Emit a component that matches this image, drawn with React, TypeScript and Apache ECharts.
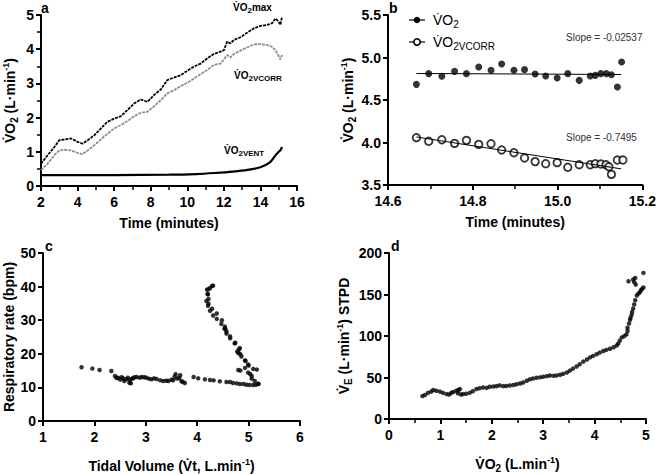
import React, { useEffect, useRef } from "react";
import * as echarts from "echarts";

// ---------- Panel a: VO2 vs time ----------
const aTime = [2.0, 2.36, 2.73, 3.0, 3.27, 3.64, 4.0, 4.27, 4.55, 4.91, 5.27, 5.64, 6.0, 6.36, 6.73, 7.09, 7.45, 7.82, 8.18, 8.55, 8.91, 9.27, 9.64, 10.0, 10.36, 10.73, 11.09, 11.45, 11.82, 12.0, 12.18, 12.36, 12.55, 12.91, 13.27, 13.64, 14.0, 14.36, 14.64, 14.82, 15.0, 15.09, 15.18];
const aVO2max = [0.65, 0.9, 1.14, 1.34, 1.36, 1.39, 1.29, 1.24, 1.34, 1.48, 1.68, 1.88, 1.97, 2.04, 2.22, 2.41, 2.53, 2.46, 2.66, 2.82, 3.1, 3.17, 3.24, 3.37, 3.49, 3.58, 3.73, 3.86, 3.93, 3.97, 4.22, 4.17, 4.27, 4.35, 4.48, 4.61, 4.68, 4.71, 4.76, 4.9, 4.8, 4.71, 4.95];
const aVO2corr = [0.46, 0.65, 0.9, 1.04, 1.06, 1.04, 0.97, 0.93, 1.04, 1.19, 1.36, 1.53, 1.68, 1.78, 1.9, 2.04, 2.14, 2.17, 2.33, 2.51, 2.71, 2.8, 2.92, 3.02, 3.14, 3.27, 3.39, 3.54, 3.58, 3.7, 3.83, 3.76, 3.86, 3.96, 4.05, 4.14, 4.15, 4.12, 4.07, 3.97, 3.8, 3.7, 3.83];
const aVentTime = [2.0, 6.0, 9.0, 10.5, 11.5, 12.5, 13.3, 14.0, 14.5, 14.8, 15.0, 15.1, 15.18];
const aVO2vent = [0.32, 0.32, 0.33, 0.35, 0.38, 0.42, 0.47, 0.55, 0.68, 0.88, 1.0, 1.05, 1.14];

// ---------- Panel b: last 30 s ----------
const bTime = [14.667, 14.696, 14.727, 14.757, 14.785, 14.814, 14.843, 14.868, 14.897, 14.922, 14.947, 14.972, 14.999, 15.024, 15.051, 15.077, 15.089, 15.102, 15.115, 15.127, 15.141, 15.151];
const bVO2 = [4.684, 4.81, 4.78, 4.837, 4.81, 4.888, 4.849, 4.924, 4.849, 4.857, 4.806, 4.782, 4.759, 4.81, 4.731, 4.782, 4.79, 4.81, 4.81, 4.798, 4.653, 4.947];
const bCorrTime = [14.667, 14.696, 14.727, 14.757, 14.785, 14.814, 14.843, 14.868, 14.897, 14.922, 14.947, 14.972, 14.999, 15.024, 15.051, 15.077, 15.089, 15.102, 15.114, 15.121, 15.127, 15.141, 15.154];
const bVO2corr = [4.057, 4.014, 4.033, 3.99, 4.025, 3.978, 3.986, 3.912, 3.88, 3.818, 3.775, 3.751, 3.763, 3.708, 3.739, 3.739, 3.751, 3.747, 3.739, 3.715, 3.625, 3.794, 3.794];
const bFitTime = [14.667, 15.15];
const bFitVO2 = [4.812, 4.8];
const bFitCorr = [4.065, 3.69];
const bSlopes = ["Slope = -0.02537", "Slope = -0.7495"];

// ---------- Panel c: tidal volume vs respiratory rate ----------
const cTidal = [1.75, 1.96, 2.1, 2.33, 2.4, 2.43, 2.46, 2.5, 2.53, 2.56, 2.58, 2.62, 2.65, 2.68, 2.69, 2.71, 2.73, 2.75, 2.78, 2.82, 2.88, 2.92, 2.97, 3.01, 3.06, 3.11, 3.16, 3.21, 3.28, 3.34, 3.4, 3.44, 3.5, 3.53, 3.56, 3.58, 3.61, 3.65, 3.67, 3.69, 3.72, 3.76, 3.93, 4.02, 4.15, 4.25, 4.32, 4.44, 4.57, 4.64, 4.7, 4.77, 4.83, 4.9, 4.96, 5.02, 5.09, 5.14, 5.19, 5.19, 5.12, 5.06, 5.06, 5.03, 4.99, 4.84, 4.8, 4.93, 5.09, 5.16, 5.0, 4.99, 4.94, 4.93, 4.86, 4.84, 4.78, 4.8, 4.83, 4.81, 4.74, 4.73, 4.64, 4.64, 4.57, 4.57, 4.55, 4.53, 4.54, 4.47, 4.38, 4.48, 4.31, 4.38, 4.25, 4.29, 4.21, 4.22, 4.18, 4.22, 4.21, 4.2, 4.19, 4.22, 4.25, 4.29, 4.31];
const cRate = [16.0, 15.6, 15.2, 14.9, 13.4, 12.8, 12.9, 12.3, 13.0, 12.7, 11.9, 12.4, 12.9, 11.4, 12.2, 11.2, 12.6, 12.7, 13.0, 13.1, 12.9, 13.1, 13.0, 12.9, 12.6, 12.4, 12.7, 12.5, 12.1, 11.9, 12.0, 11.9, 12.3, 12.1, 13.2, 13.9, 12.6, 12.9, 13.6, 11.9, 11.6, 11.3, 13.1, 12.7, 12.4, 12.2, 12.1, 11.8, 11.6, 11.6, 11.3, 11.2, 11.0, 11.0, 10.8, 10.7, 10.7, 10.8, 11.0, 11.1, 11.9, 12.6, 13.4, 14.0, 14.4, 15.0, 15.2, 15.8, 15.5, 15.3, 16.5, 16.8, 17.9, 18.0, 19.2, 19.9, 20.7, 20.2, 21.7, 21.3, 23.3, 23.1, 24.6, 25.2, 26.0, 26.6, 27.3, 27.5, 28.1, 28.9, 30.4, 30.0, 31.4, 32.0, 32.8, 33.4, 34.3, 34.9, 35.7, 36.3, 37.7, 37.8, 39.1, 39.2, 39.6, 40.2, 40.3];

// ---------- Panel d: VE vs VO2 ----------
const dVO2 = [0.65, 0.7, 0.76, 0.82, 0.86, 0.92, 0.99, 1.05, 1.12, 1.17, 1.21, 1.25, 1.31, 1.35, 1.38, 1.34, 1.4, 1.44, 1.5, 1.57, 1.63, 1.7, 1.76, 1.83, 1.9, 1.96, 2.03, 2.09, 2.15, 2.22, 2.28, 2.35, 2.42, 2.48, 2.55, 2.61, 2.68, 2.74, 2.8, 2.87, 2.94, 3.0, 3.07, 3.13, 3.2, 3.26, 3.33, 3.39, 3.46, 3.52, 3.58, 3.65, 3.71, 3.78, 3.85, 3.91, 3.97, 4.04, 4.1, 4.17, 4.23, 4.3, 4.37, 4.43, 4.46, 4.49, 4.53, 4.58, 4.62, 4.64, 4.64, 4.67, 4.69, 4.7, 4.72, 4.73, 4.75, 4.77, 4.79, 4.82, 4.85, 4.88, 4.9, 4.92, 4.95, 4.66, 4.75, 4.77, 4.79, 4.8, 4.95];
const dVE = [27.6, 29, 31.5, 33, 35, 34, 33, 31.5, 30, 29.5, 31.5, 32.5, 34, 35, 36, 31, 29.5, 30, 30.5, 31.5, 33.5, 36, 37, 38, 37.5, 38.8, 39.2, 39.6, 40.5, 39.6, 39.8, 40.4, 41, 41.9, 42.8, 43.9, 46, 47.8, 48.8, 49.7, 50.2, 50.9, 51.6, 52.4, 52.0, 52.4, 53.3, 54.4, 56, 58.3, 60.7, 63.3, 66, 69.1, 71.7, 74.2, 76, 78.1, 80, 81.9, 83.3, 84.7, 86.5, 88.5, 91, 94.4, 98.3, 100, 102, 106, 110, 115, 119.6, 122, 125.4, 129, 133, 138, 143, 148.7, 151, 152.6, 155, 156.5, 158.4, 166, 168, 165, 170, 162, 176];

const FONT = '"Liberation Sans", Arial, Helvetica, sans-serif';
const V = "V\u0307";

const zip = (xs: number[], ys: number[]) => xs.map((x, i) => [x, ys[i]]);

const nameRich = {
  b: { fontSize: 14, fontWeight: "bold", fontFamily: FONT, color: "#000", lineHeight: 18 },
  sub: { fontSize: 10, fontWeight: "bold", fontFamily: FONT, color: "#000", lineHeight: 10, verticalAlign: "bottom" },
  sup: { fontSize: 9, fontWeight: "bold", fontFamily: FONT, color: "#000", lineHeight: 9, verticalAlign: "top" },
};

const annRich = {
  n: { fontSize: 10, fontWeight: "bold", fontFamily: FONT, color: "#111", lineHeight: 14 },
  s: { fontSize: 8, fontWeight: "bold", fontFamily: FONT, color: "#111", lineHeight: 8, verticalAlign: "bottom" },
};

const legRich = {
  n: { fontSize: 14, fontFamily: FONT, color: "#111", lineHeight: 18 },
  s: { fontSize: 10, fontFamily: FONT, color: "#111", lineHeight: 10, verticalAlign: "bottom" },
};

const tickLabel = { color: "#000", fontFamily: FONT, fontWeight: "bold", fontSize: 14 };

function axis(extra: any) {
  return {
    axisLine: { show: true, onZero: false, lineStyle: { color: "#000", width: 2 } },
    axisTick: { show: true, length: 5, lineStyle: { color: "#000", width: 2 } },
    splitLine: { show: false },
    nameLocation: "middle",
    nameTextStyle: { fontFamily: FONT, fontWeight: "bold", fontSize: 14, color: "#000", rich: nameRich },
    ...extra,
  };
}

const minor = { show: true, splitNumber: 2, length: 4, lineStyle: { color: "#000", width: 1.5 } };

const vo2Name = `{b|${V}O}{sub|2}{b| (L·min}{sup|-1}{b|)}`;

function buildOption(): any {
  return {
    animation: false,
    backgroundColor: "#fff",
    grid: [
      { left: 40, top: 15, width: 257, height: 171 },
      { left: 388, top: 15, width: 259, height: 170 },
      { left: 43, top: 253, width: 257, height: 172 },
      { left: 389, top: 253, width: 257, height: 172 },
    ],
    xAxis: [
      axis({ gridIndex: 0, type: "value", min: 2, max: 16, interval: 2, minorTick: minor, name: "{b|Time (minutes)}", nameGap: 28, axisLabel: { ...tickLabel, margin: 9 } }),
      axis({ gridIndex: 1, type: "value", min: 14.6, max: 15.2, interval: 0.2, minorTick: minor, name: "{b|Time (minutes)}", nameGap: 28, axisLabel: { ...tickLabel, margin: 9, formatter: (v: number) => v.toFixed(1) } }),
      axis({ gridIndex: 2, type: "value", min: 1, max: 6, interval: 1, name: `{b|Tidal Volume (${V}t, L.min}{sup|-1}{b|)}`, nameGap: 36, axisLabel: { ...tickLabel, margin: 9 } }),
      axis({ gridIndex: 3, type: "value", min: 0, max: 5, interval: 1, minorTick: minor, name: `{b|${V}O}{sub|2}{b| (L.min}{sup|-1}{b|)}`, nameGap: 36, axisLabel: { ...tickLabel, margin: 9 } }),
    ],
    yAxis: [
      axis({ gridIndex: 0, type: "value", min: 0, max: 5, interval: 1, minorTick: minor, name: vo2Name, nameGap: 22, axisLabel: { ...tickLabel, margin: 7 } }),
      axis({ gridIndex: 1, type: "value", min: 3.5, max: 5.5, interval: 0.5, name: vo2Name, nameGap: 31, axisLabel: { ...tickLabel, margin: 7, formatter: (v: number) => v.toFixed(1) } }),
      axis({ gridIndex: 2, type: "value", min: 0, max: 50, interval: 10, name: "{b|Respiratory rate (bpm)}", nameGap: 25, axisLabel: { ...tickLabel, margin: 7 } }),
      axis({ gridIndex: 3, type: "value", min: 0, max: 200, interval: 50, name: `{b|${V}}{sub|E}{b| (L·min}{sup|-1}{b|) STPD}`, nameGap: 36, axisLabel: { ...tickLabel, margin: 7 } }),
    ],
    series: [
      { type: "line", xAxisIndex: 0, yAxisIndex: 0, data: zip(aTime, aVO2corr), showSymbol: false, lineStyle: { color: "#8e8e8e", width: 1.8, type: [3, 1] } },
      { type: "line", xAxisIndex: 0, yAxisIndex: 0, data: zip(aTime, aVO2max), showSymbol: false, lineStyle: { color: "#000", width: 1.8, type: [3, 1] } },
      { type: "line", xAxisIndex: 0, yAxisIndex: 0, data: zip(aVentTime, aVO2vent), showSymbol: false, smooth: 0.3, lineStyle: { color: "#000", width: 2.2 } },

      { type: "line", xAxisIndex: 1, yAxisIndex: 1, data: zip(bFitTime, bFitVO2), showSymbol: false, lineStyle: { color: "#000", width: 1 } },
      { type: "line", xAxisIndex: 1, yAxisIndex: 1, data: zip(bFitTime, bFitCorr), showSymbol: false, lineStyle: { color: "#000", width: 1 } },
      { type: "scatter", xAxisIndex: 1, yAxisIndex: 1, data: zip(bTime, bVO2), symbolSize: 7, itemStyle: { color: "#000" } },
      { type: "scatter", xAxisIndex: 1, yAxisIndex: 1, data: zip(bCorrTime, bVO2corr), symbolSize: 7.5, itemStyle: { color: "#fff", borderColor: "#000", borderWidth: 1.8 } },

      { type: "scatter", xAxisIndex: 2, yAxisIndex: 2, data: zip(cTidal, cRate), symbolSize: 4.5, itemStyle: { color: "#000" } },
      { type: "scatter", xAxisIndex: 3, yAxisIndex: 3, data: zip(dVO2, dVE), symbolSize: 4.5, itemStyle: { color: "#000" } },
    ],
    graphic: [
      { type: "text", left: 41, top: 1, style: { text: "a", font: `bold 14px ${FONT}`, fill: "#000" } },
      { type: "text", left: 389, top: 1, style: { text: "b", font: `bold 14px ${FONT}`, fill: "#000" } },
      { type: "text", left: 45, top: 239, style: { text: "c", font: `bold 14px ${FONT}`, fill: "#000" } },
      { type: "text", left: 391, top: 239, style: { text: "d", font: `bold 14px ${FONT}`, fill: "#000" } },

      { type: "text", x: 233, y: 0, style: { text: `{n|${V}O}{s|2}{n|max}`, rich: annRich } },
      { type: "text", x: 234, y: 68, style: { text: `{n|${V}O}{s|2VCORR}`, rich: annRich } },
      { type: "text", x: 224, y: 143, style: { text: `{n|${V}O}{s|2VENT}`, rich: annRich } },

      { type: "line", shape: { x1: 409, y1: 20, x2: 425, y2: 20 }, style: { stroke: "#000", lineWidth: 1.2 } },
      { type: "circle", shape: { cx: 417, cy: 20, r: 3.3 }, style: { fill: "#000" } },
      { type: "text", x: 433, y: 11, style: { text: `{n|${V}O}{s|2}`, rich: legRich } },
      { type: "line", shape: { x1: 409, y1: 42, x2: 425, y2: 42 }, style: { stroke: "#000", lineWidth: 1.2 } },
      { type: "circle", shape: { cx: 417, cy: 42, r: 3.2 }, style: { fill: "#fff", stroke: "#000", lineWidth: 1.6 } },
      { type: "text", x: 433, y: 33, style: { text: `{n|${V}O}{s|2VCORR}`, rich: legRich } },

      { type: "text", x: 566, y: 32, style: { text: bSlopes[0], font: `10px ${FONT}`, fill: "#333" } },
      { type: "text", x: 566, y: 132, style: { text: bSlopes[1], font: `10px ${FONT}`, fill: "#333" } },
    ],
  };
}

export default function App() {
  const ref = useRef<HTMLDivElement>(null);
  useEffect(() => {
    if (!ref.current) return;
    const chart = echarts.init(ref.current, null, { renderer: "svg" });
    chart.setOption(buildOption());
    return () => chart.dispose();
  }, []);
  return (
    <div
      ref={ref}
      style={{ position: "fixed", left: 0, top: 0, width: 659, height: 474, background: "#fff" }}
    />
  );
}
